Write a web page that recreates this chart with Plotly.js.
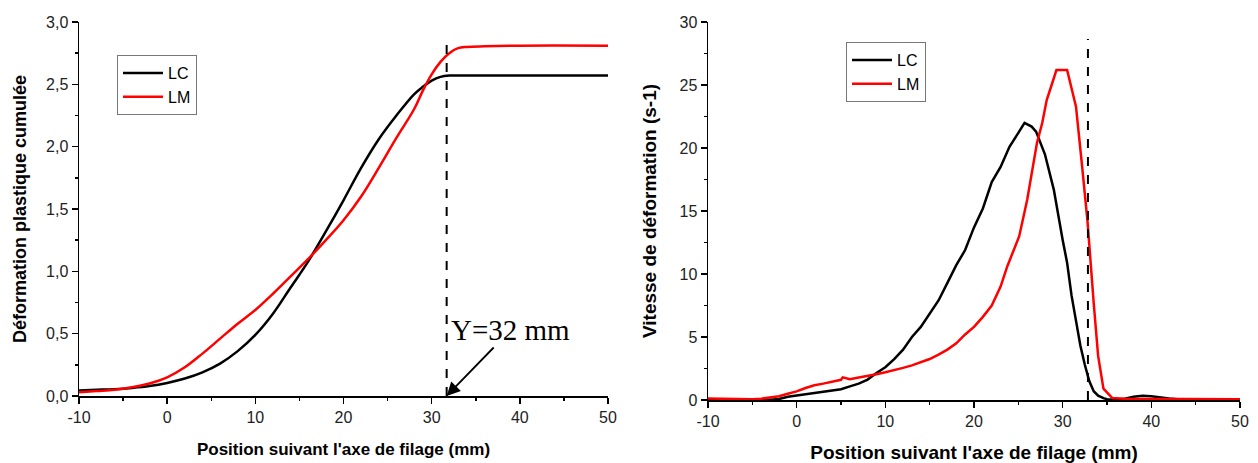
<!DOCTYPE html>
<html>
<head>
<meta charset="utf-8">
<script src="https://cdn.plot.ly/plotly-3.0.1.min.js"></script>
<style>html,body{margin:0;padding:0;background:#fff;}#chart{width:1258px;height:463px;}</style>
</head>
<body>
<div id="chart"></div>
<script>
// ---- Left chart: cumulative plastic strain ----
const leftX_LC = [-10,-8,-6,-4,-2,0,2,4,6,8,10,12,14,16,18,20,22,24,26,28,29,30,31,32,34,40,50];
const leftY_LC = [0.045,0.05,0.055,0.065,0.08,0.105,0.14,0.19,0.26,0.36,0.49,0.66,0.87,1.08,1.32,1.57,1.83,2.06,2.25,2.42,2.48,2.53,2.56,2.57,2.57,2.57,2.57];
const leftX_LM = [-10,-8,-6,-4,-2,0,2,4,6,8,10,12,14,16,18,20,22,24,26,28,29,30,31,32,33,34,36,40,50];
const leftY_LM = [0.03,0.04,0.05,0.07,0.10,0.15,0.23,0.34,0.46,0.58,0.69,0.82,0.96,1.10,1.25,1.41,1.60,1.83,2.07,2.30,2.45,2.58,2.68,2.75,2.79,2.80,2.805,2.81,2.81];

// ---- Right chart: strain rate ----
const rightX_LC = [-10,-9,-8,-7,-6,-5,-4,-3,-2,-1,0,1,2,3,4,5,6,7,8,9,10,11,12,13,14,15,16,17,18,19,20,21,22,23,23.5,24,25,25.7,26.5,27,28,29,30,30.5,31,31.5,32,32.5,33,33.5,34,34.6,35,36,37,38,39,40,41,42,43,44,45,46,50];
const rightY_LC = [0.05,0.04,0.03,0.02,0.01,0.0,0.0,0.02,0.08,0.25,0.35,0.45,0.52,0.62,0.72,0.85,1.08,1.3,1.62,2.15,2.6,3.25,4.0,5.0,5.8,6.8,7.9,9.3,10.7,11.9,13.7,15.2,17.3,18.5,19.3,20.1,21.2,22.0,21.7,21.3,19.5,16.7,12.7,10.9,8.3,6.2,4.3,2.8,1.5,0.7,0.35,0.15,0.06,0.03,0.1,0.25,0.33,0.3,0.2,0.12,0.06,0.03,0.01,0.0,0.0];
const rightX_LM = [-10,-9,-8,-7,-6,-5,-4,-3,-2,-1,0,1,2,3,4,5,5.2,6,7,8,9,10,11,12,13,14,15,16,17,18,19,20,21,22,23,23.75,24.5,25.1,26,27.1,27.7,28.2,28.8,29.3,30.5,31.5,32.2,32.8,33.5,34,34.6,35.6,37,40,45,50];
const rightY_LM = [0.12,0.1,0.08,0.06,0.05,0.06,0.1,0.18,0.3,0.5,0.68,0.95,1.17,1.3,1.45,1.6,1.8,1.65,1.78,1.9,2.05,2.2,2.35,2.55,2.75,3.02,3.25,3.6,4.0,4.5,5.2,5.8,6.6,7.5,9.0,10.6,12.0,13.0,15.9,20.4,22.0,23.8,25.1,26.2,26.2,23.3,18.5,14.2,7.7,3.5,0.9,0.15,0.1,0.1,0.08,0.05];

// ---- Reference lines ----
const leftCutX = [31.7, 31.7];
const leftCutY = [0, 2.88];
const rightCutX = [32.85, 32.85];
const rightCutY = [0, 28.65];

// ---- Tick labels ----
const xTickVals = [-10,0,10,20,30,40,50];
const xTickText = ['-10','0','10','20','30','40','50'];
const xMinorVals = [-5,5,15,25,35,45];
const leftYTickVals = [0,0.5,1,1.5,2,2.5,3];
const leftYTickText = ['0,0','0,5','1,0','1,5','2,0','2,5','3,0'];
const leftYMinorVals = [0.25,0.75,1.25,1.75,2.25,2.75];
const rightYTickVals = [0,5,10,15,20,25,30];
const rightYTickText = ['0','5','10','15','20','25','30'];
const rightYMinorVals = [2.5,7.5,12.5,17.5,22.5,27.5];

const seriesNames = ['LC','LM'];
const colors = ['#000000','#ff0000'];

const FONT = 'Liberation Sans, Arial, sans-serif';

const traces = [
  {x:leftX_LC, y:leftY_LC, name:seriesNames[0], mode:'lines', line:{color:colors[0], width:2.5, shape:'spline', smoothing:1}, xaxis:'x', yaxis:'y', legend:'legend'},
  {x:leftX_LM, y:leftY_LM, name:seriesNames[1], mode:'lines', line:{color:colors[1], width:2.5, shape:'spline', smoothing:1}, xaxis:'x', yaxis:'y', legend:'legend'},
  {x:leftCutX, y:leftCutY, mode:'lines', line:{color:'#000', width:2, dash:'dash'}, showlegend:false, hoverinfo:'skip', xaxis:'x', yaxis:'y'},
  {x:rightX_LC, y:rightY_LC, name:seriesNames[0], mode:'lines', line:{color:colors[0], width:2.5}, xaxis:'x2', yaxis:'y2', legend:'legend2'},
  {x:rightX_LM, y:rightY_LM, name:seriesNames[1], mode:'lines', line:{color:colors[1], width:2.5}, xaxis:'x2', yaxis:'y2', legend:'legend2'},
  {x:rightCutX, y:rightCutY, mode:'lines', line:{color:'#000', width:2, dash:'dash'}, showlegend:false, hoverinfo:'skip', xaxis:'x2', yaxis:'y2'}
];

function xAxis(domain, anchor, titleText, size, standoff) {
  return {
    domain: domain, anchor: anchor, range:[-10,50],
    showgrid:false, zeroline:false, showline:true, linecolor:'#000', linewidth:1.5,
    ticks:'outside', ticklen:6, tickwidth:1.5, tickcolor:'#000',
    tickmode:'array', tickvals:xTickVals, ticktext:xTickText,
    minor:{tickmode:'array', tickvals:xMinorVals, ticks:'outside', ticklen:3, tickwidth:1.5, tickcolor:'#000', showgrid:false},
    tickfont:{family:FONT, size:16, color:'#222'},
    title:{text:titleText, font:{family:FONT, size:size, color:'#000', weight:'bold'}, standoff:standoff},
    automargin:false
  };
}
function yAxis(domain, anchor, range, vals, text, minorVals, titleText, size, standoff) {
  return {
    domain: domain, anchor: anchor, range: range,
    showgrid:false, zeroline:false, showline:true, linecolor:'#000', linewidth:1.5,
    ticks:'outside', ticklen:6, tickwidth:1.5, tickcolor:'#000',
    tickmode:'array', tickvals:vals, ticktext:text,
    minor:{tickmode:'array', tickvals:minorVals, ticks:'outside', ticklen:3, tickwidth:1.5, tickcolor:'#000', showgrid:false},
    tickfont:{family:FONT, size:16, color:'#222'},
    title:{text:titleText, font:{family:FONT, size:size, color:'#000', weight:'bold'}, standoff:standoff},
    automargin:false
  };
}

const layout = {
  width:1258, height:463,
  margin:{l:0, r:0, t:0, b:0},
  paper_bgcolor:'#fff', plot_bgcolor:'#fff',
  font:{family:FONT},
  xaxis: xAxis([79/1258, 608/1258], 'y', "Position suivant l'axe de filage (mm)", 17, 18),
  yaxis: yAxis([1-396/463, 1-22/463], 'x', [0,3], leftYTickVals, leftYTickText, leftYMinorVals, 'Déformation plastique cumulée', 18, 14),
  xaxis2: xAxis([708/1258, 1240/1258], 'y2', "Position suivant l'axe de filage (mm)", 19, 20),
  yaxis2: yAxis([1-400/463, 1-22/463], 'x2', [0,30], rightYTickVals, rightYTickText, rightYMinorVals, 'Vitesse de déformation (s-1)', 19, 18),
  legend:{x:117/1258, y:1-55/463, xanchor:'left', yanchor:'top', bgcolor:'#fff', bordercolor:'#777', borderwidth:1, itemwidth:40, font:{family:FONT, size:16, color:'#000'}},
  legend2:{x:846/1258, y:1-42/463, xanchor:'left', yanchor:'top', bgcolor:'#fff', bordercolor:'#777', borderwidth:1, itemwidth:40, font:{family:FONT, size:16, color:'#000'}},
  annotations:[
    {xref:'x', yref:'y', x:leftCutX[0], y:0, text:'Y=32 mm', showarrow:true, ax:64, ay:-66,
     arrowhead:2, arrowsize:1.5, arrowwidth:1.8, arrowcolor:'#000',
     font:{family:'Liberation Serif, Times New Roman, serif', size:29, color:'#000'}}
  ],
  showlegend:true
};

Plotly.newPlot('chart', traces, layout, {displayModeBar:false, staticPlot:true});
</script>
</body>
</html>
